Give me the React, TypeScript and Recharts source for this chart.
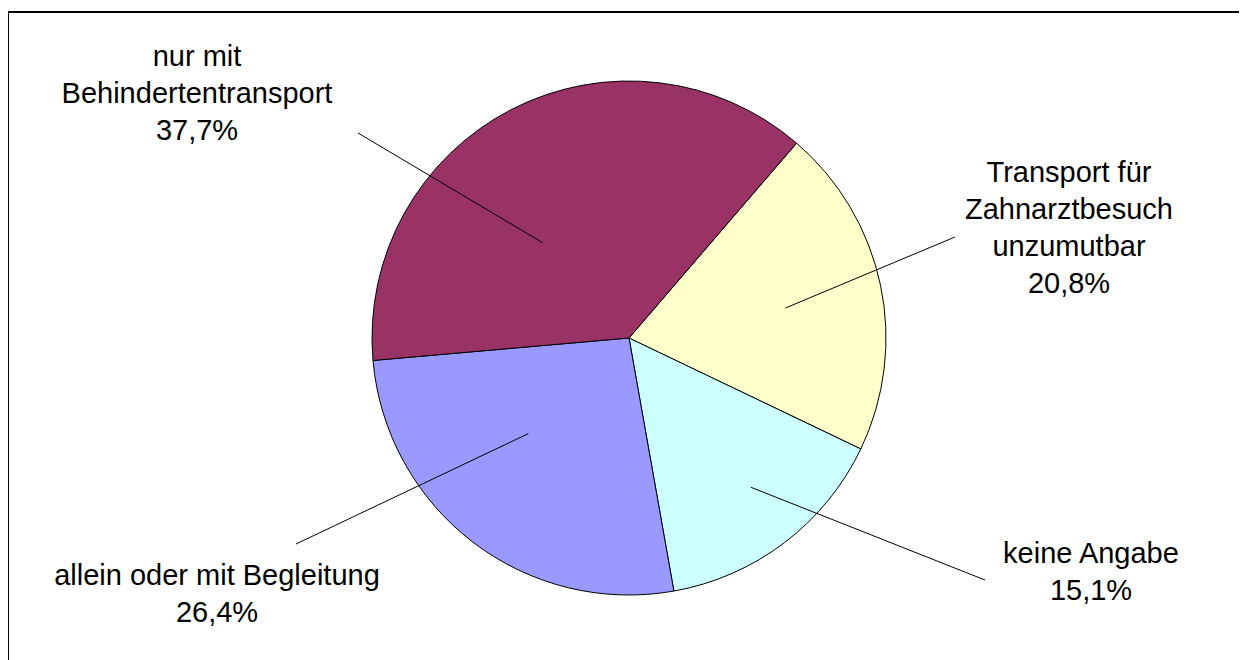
import React from "react";
import { PieChart, Pie, Cell } from "recharts";

const categories = [
  "Transport für\nZahnarztbesuch\nunzumutbar",
  "keine Angabe",
  "allein oder mit Begleitung",
  "nur mit\nBehindertentransport",
];
const values = [20.8, 15.1, 26.4, 37.7];
const colors = ["#FFFFCC", "#CCFFFF", "#9999FF", "#993366"];

// label layout: leader line start (angle offset from slice middle, radius factor),
// leader line end and text anchor as offsets from the pie centre
const labelLayout = [
  { dAng: -1, rf: 0.62, end: [326, -101], text: [440, -156] },
  { dAng: 2, rf: 0.75, end: [356, 242], text: [462, 225] },
  { dAng: -9, rf: 0.54, end: [-333, 206], text: [-412, 247] },
  { dAng: 15, rf: 0.5, end: [-271, -205], text: [-432, -272] },
];

const data = categories.map((name, i) => ({ name, value: values[i] }));

const RAD = Math.PI / 180;
const LINE_H = 37;

const fmt = (v: number) => v.toFixed(1).replace(".", ",") + "%";

const renderLabel = (props: any) => {
  const { cx, cy, midAngle, outerRadius, index } = props;
  const L = labelLayout[index];
  const a = (midAngle + L.dAng) * RAD;
  const x1 = cx + Math.cos(a) * outerRadius * L.rf;
  const y1 = cy - Math.sin(a) * outerRadius * L.rf;
  const x2 = cx + L.end[0];
  const y2 = cy + L.end[1];
  const lines = [...categories[index].split("\n"), fmt(values[index])];
  const tx = cx + L.text[0];
  const ty = cy + L.text[1];
  return (
    <g key={"lbl" + index}>
      <line x1={x1} y1={y1} x2={x2} y2={y2} stroke="#000" strokeWidth={1} />
      <text
        x={tx}
        y={ty}
        textAnchor="middle"
        fontFamily="'Liberation Sans', Arial, sans-serif"
        fontSize={29}
        fill="#000"
      >
        {lines.map((t, j) => (
          <tspan key={j} x={tx} y={ty + j * LINE_H}>
            {t}
          </tspan>
        ))}
      </text>
    </g>
  );
};

export default function App() {
  return (
    <div
      style={{
        position: "relative",
        width: 1239,
        height: 652,
        overflow: "hidden",
        background: "#fff",
      }}
    >
      <div
        style={{
          position: "absolute",
          left: -1,
          top: 3,
          width: 1400,
          height: 800,
          borderLeft: "2px solid #000",
          borderTop: "2px solid #000",
          boxSizing: "border-box",
        }}
      />
      <div style={{ position: "absolute", left: 0, top: 0 }}>
        <PieChart width={1239} height={652} margin={{ top: 0, right: 0, bottom: 0, left: 0 }}>
          <Pie
            data={data}
            dataKey="value"
            nameKey="name"
            cx={621}
            cy={330}
            outerRadius={257}
            startAngle={49.3}
            endAngle={-310.7}
            stroke="#000"
            strokeWidth={1}
            label={renderLabel}
            labelLine={false}
            isAnimationActive={false}
          >
            {data.map((d, i) => (
              <Cell key={d.name} fill={colors[i]} />
            ))}
          </Pie>
        </PieChart>
      </div>
    </div>
  );
}
